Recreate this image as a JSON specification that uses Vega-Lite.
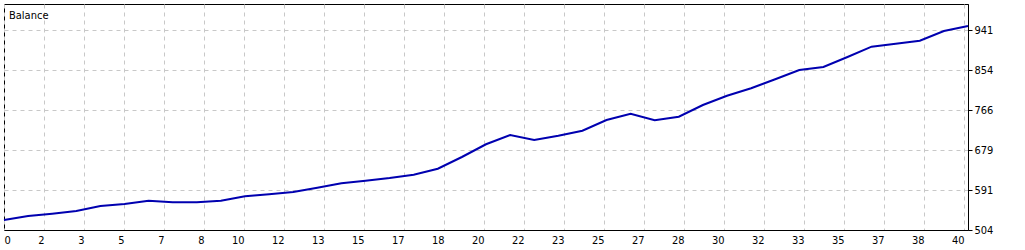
{
  "$schema": "https://vega.github.io/schema/vega-lite/v6.json",
  "width": 964,
  "height": 226,
  "autosize": "none",
  "padding": {"left": 4, "top": 4, "right": 57, "bottom": 20},
  "background": "white",
  "title": {
    "text": "Balance",
    "anchor": "start",
    "frame": "group",
    "orient": "top",
    "baseline": "top",
    "offset": -6,
    "dx": 5,
    "dy": 11,
    "font": "DejaVu Sans Condensed, Liberation Sans, sans-serif",
    "fontSize": 11,
    "fontWeight": "normal",
    "color": "#000000"
  },
  "config": {
    "view": {"stroke": "#000000", "strokeWidth": 1},
    "axis": {
      "labelFont": "DejaVu Sans Condensed, Liberation Sans, sans-serif",
      "labelFontSize": 11,
      "labelColor": "#000000",
      "gridColor": "#c8c8c8",
      "gridDash": [4, 4],
      "gridWidth": 1,
      "gridOpacity": 1,
      "domainColor": "#000000",
      "domainWidth": 1,
      "tickColor": "#000000",
      "title": null
    }
  },
  "data": {
    "values": [
      {"trade": 0, "balance": 525.9},
      {"trade": 1, "balance": 534.6},
      {"trade": 2, "balance": 539.6},
      {"trade": 3, "balance": 545.5},
      {"trade": 4, "balance": 556.4},
      {"trade": 5, "balance": 560.8},
      {"trade": 6, "balance": 568.0},
      {"trade": 7, "balance": 564.5},
      {"trade": 8, "balance": 564.5},
      {"trade": 9, "balance": 568.0},
      {"trade": 10, "balance": 577.9},
      {"trade": 11, "balance": 582.0},
      {"trade": 12, "balance": 587.0},
      {"trade": 13, "balance": 596.4},
      {"trade": 14, "balance": 606.0},
      {"trade": 15, "balance": 611.7},
      {"trade": 16, "balance": 617.6},
      {"trade": 17, "balance": 624.8},
      {"trade": 18, "balance": 637.9},
      {"trade": 19, "balance": 663.5},
      {"trade": 20, "balance": 691.3},
      {"trade": 21, "balance": 711.6},
      {"trade": 22, "balance": 700.7},
      {"trade": 23, "balance": 710.0},
      {"trade": 24, "balance": 721.0},
      {"trade": 25, "balance": 744.4},
      {"trade": 26, "balance": 758.1},
      {"trade": 27, "balance": 743.7},
      {"trade": 28, "balance": 751.6},
      {"trade": 29, "balance": 777.1},
      {"trade": 30, "balance": 797.4},
      {"trade": 31, "balance": 813.8},
      {"trade": 32, "balance": 833.3},
      {"trade": 33, "balance": 853.6},
      {"trade": 34, "balance": 860.2},
      {"trade": 35, "balance": 882.0},
      {"trade": 36, "balance": 904.5},
      {"trade": 37, "balance": 911.1},
      {"trade": 38, "balance": 917.6},
      {"trade": 39, "balance": 938.8},
      {"trade": 40, "balance": 949.7}
    ]
  },
  "mark": {"type": "line", "color": "#0000b0", "strokeWidth": 2, "interpolate": "linear"},
  "encoding": {
    "x": {
      "field": "trade",
      "type": "quantitative",
      "scale": {"domain": [0, 40], "nice": false, "zero": false},
      "axis": {
        "orient": "bottom",
        "values": [0, 1.6598, 3.3195, 4.9793, 6.639, 8.2988, 9.9585, 11.6183, 13.278, 14.9378, 16.5975, 18.2573, 19.917, 21.5768, 23.2365, 24.8963, 26.556, 28.2158, 29.8755, 31.5353, 33.195, 34.8548, 36.5145, 38.1743, 39.834],
        "labelExpr": "format(round(datum.value), 'd')",
        "labelAlign": {"condition": {"test": "datum.value == 0", "value": "left"}, "value": "right"},
        "labelBaseline": "top",
        "labelPadding": 4,
        "ticks": false,
        "labelFlush": false,
        "labelOverlap": false,
        "grid": true
      }
    },
    "y": {
      "field": "balance",
      "type": "quantitative",
      "scale": {"domain": [504, 997.81], "nice": false, "zero": false},
      "axis": {
        "orient": "right",
        "values": [504, 591.4, 678.8, 766.2, 853.6, 941],
        "labelExpr": "format(round(datum.value), 'd')",
        "tickSize": 4,
        "labelPadding": 2,
        "labelBaseline": "middle",
        "labelFlush": false,
        "labelOverlap": false,
        "grid": true
      }
    }
  }
}
